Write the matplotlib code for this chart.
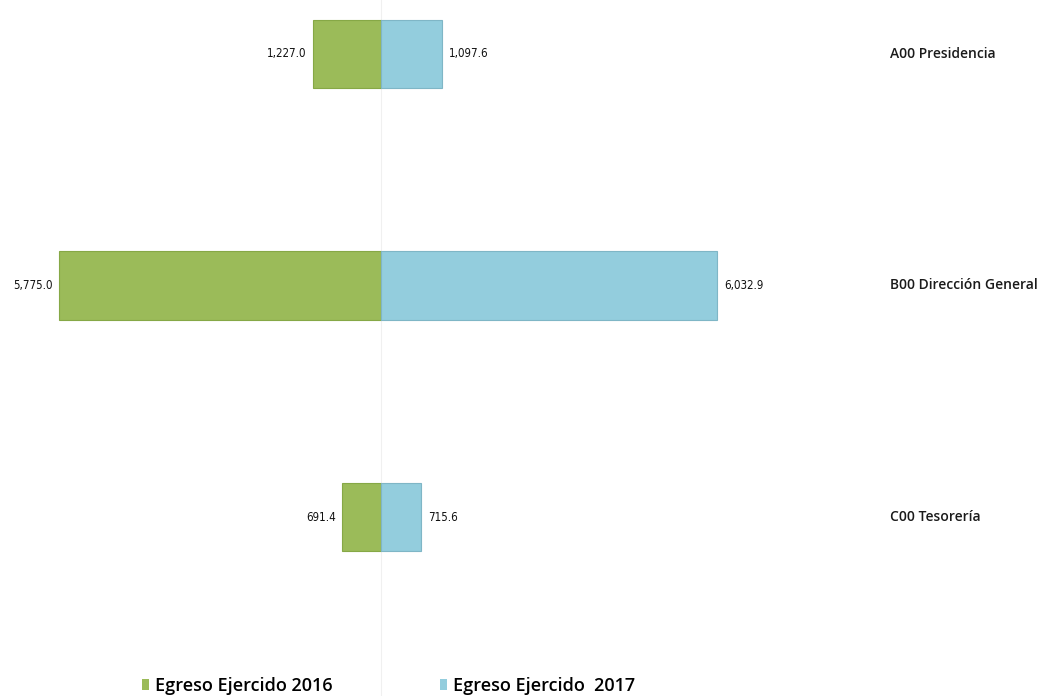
import matplotlib
matplotlib.use("Agg")
import matplotlib.pyplot as plt
from matplotlib.patches import Patch

categories = ["A00 Presidencia", "B00 Dirección General", "C00 Tesorería"]
egreso_2016 = [1227.0, 5775.0, 691.4]
egreso_2017 = [1097.6, 6032.9, 715.6]
series_names = ["Egreso Ejercido 2016", "Egreso Ejercido  2017"]

green = "#9bbb59"
blue = "#93cddd"

fig = plt.figure(figsize=(10.42, 6.96), dpi=100)
ax = fig.add_axes([0, 0, 1, 1])
ax.set_xlim(-6833, 11854)
ax.set_ylim(2.773, -0.233)
ax.axis("off")

ypos = list(range(len(categories)))
h = 0.294
ax.barh(ypos, [-v for v in egreso_2016], height=h, color=green,
        edgecolor="#86a846", linewidth=0.8)
ax.barh(ypos, egreso_2017, height=h, color=blue,
        edgecolor="#7fb6c6", linewidth=0.8)
ax.axvline(0, color="#f0f0f0", lw=0.8, zorder=0)

vfont = dict(family=["DejaVu Sans"], fontstretch="condensed", fontsize=8.3,
             fontweight="medium", color="#111111")
for y, a, b in zip(ypos, egreso_2016, egreso_2017):
    ax.text(-a - 110, y, f"{a:,.1f}", ha="right", va="center", **vfont)
    ax.text(b + 125, y, f"{b:,.1f}", ha="left", va="center", **vfont)

for y, c in zip(ypos, categories):
    ax.text(9128, y, c, ha="left", va="center",
            family=["Open Sans", "DejaVu Sans"], fontsize=10,
            fontweight="semibold", color="#1a1a1a")

lprop = dict(family=["Open Sans", "DejaVu Sans"], size=13, weight="semibold")
lkw = dict(loc="center left", frameon=False, handlelength=0.4,
           handleheight=0.6, handletextpad=0.3, borderpad=0, borderaxespad=0,
           prop=lprop)
fig.legend(handles=[Patch(facecolor=green, label=series_names[0])],
           bbox_to_anchor=(142 / 1042, 1 - 686 / 696), **lkw)
fig.legend(handles=[Patch(facecolor=blue, label=series_names[1])],
           bbox_to_anchor=(440 / 1042, 1 - 686 / 696), **lkw)

fig.savefig("out.png", dpi=100)
